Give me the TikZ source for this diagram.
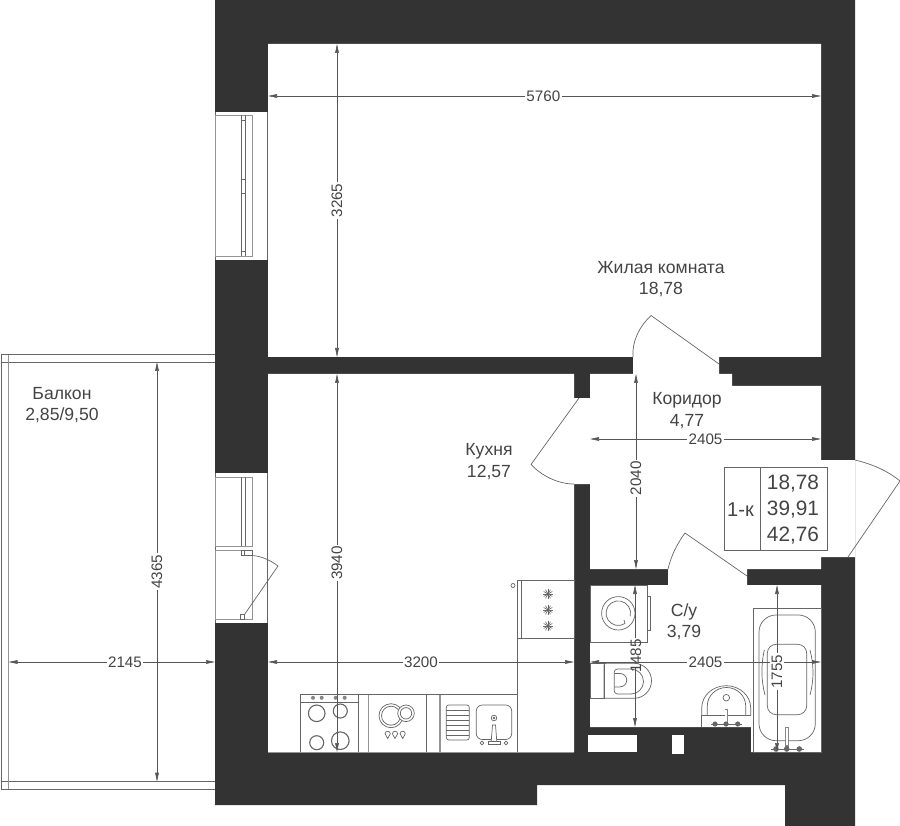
\documentclass[tikz,border=0pt]{standalone}
\usepackage{fontspec}
\setmainfont{Liberation Sans}
\usetikzlibrary{arrows.meta}
\definecolor{wallc}{HTML}{333333}
\definecolor{linec}{HTML}{666666}
\definecolor{dimc}{HTML}{555555}
\definecolor{textc}{HTML}{444444}
\tikzset{
  wall/.style={fill=wallc,draw=none},
  hole/.style={fill=white,draw=none},
  fix/.style={draw=linec,line width=0.7pt},
  fixgray/.style={draw=linec!70,line width=1.3pt},
  tipa/.tip={Stealth[length=9pt,width=3.6pt,inset=0pt]},
  dimline/.style={draw=dimc,line width=0.6pt,tipa-tipa},
  dimhalfa/.style={draw=dimc,line width=0.6pt,tipa-},
  dimhalfb/.style={draw=dimc,line width=0.6pt,-tipa},
  dimtext/.style={fill=white,inner sep=1.5pt,text=textc,font=\fontsize{15.2}{16}\selectfont},
  dimnofill/.style={inner sep=1.5pt,text=textc,font=\fontsize{15.2}{16}\selectfont},
  roomtext/.style={text=textc,align=center,inner sep=0pt,font=\fontsize{17.6}{21.5}\selectfont},
  tabletext/.style={text=textc,inner sep=0pt,font=\fontsize{20.8}{24}\selectfont},
}
\begin{document}
\begin{tikzpicture}[x=1pt,y=-1pt]
\useasboundingbox (0,0) rectangle (900,826);
% walls
\fill[wall] (215,0) -- (855,0) -- (855,826) -- (785,826) -- (785,785) -- (537,785) -- (537,805) -- (215,805) -- cycle;
\fill[hole] (268,44) -- (821,44) -- (821,357) -- (719,357) -- (719,374) -- (732,374) -- (732,386) -- (821,386) -- (821,460) -- (855,460) -- (855,557) -- (821,557) -- (821,569) -- (747,569) -- (747,585) -- (821,585) -- (821,752) -- (751,752) -- (751,727) -- (590,727) -- (590,585) -- (668,585) -- (668,569) -- (590,569) -- (590,484) -- (574,484) -- (574,752) -- (268,752) -- (268,374) -- (574,374) -- (574,398) -- (590,398) -- (590,374) -- (633,374) -- (633,357) -- (268,357) -- cycle;
\fill[hole] (588,735) rectangle (637,752);
\fill[hole] (672,735) rectangle (684,754);
\fill[hole] (215,112) rectangle (267.5,260.5);
\fill[hole] (215,473) rectangle (267.5,623);
% window 1
\draw[fix] (215,112) -- (215,260.5);
\draw[draw=linec,line width=1.2pt] (267.2,112) -- (267.2,260.5);
\draw[fixgray,line width=0.9pt] (215,115) rectangle (252,256);
\draw[fix] (241,115) -- (241,256) (245.3,115) -- (245.3,256);
\draw[fix] (241,120.7) -- (245.3,120.7) (241,179) -- (245.3,179) (241,193) -- (245.3,193) (241,251.7) -- (245.3,251.7);
% window 2
\draw[fix] (215,473) -- (215,623);
\draw[draw=linec,line width=1.2pt] (267.2,473) -- (267.2,623);
\draw[fixgray,line width=0.9pt] (215,477) rectangle (252,546);
\draw[fix] (241,477) -- (241,546) (245.3,477) -- (245.3,546);
\draw[fixgray,line width=0.9pt] (215,550) rectangle (252,619);
\draw[fix] (241,550) rectangle (252,555.5);
\draw[fix] (244.5,550) -- (244.5,555.5);
\draw[fix] (240.5,614.5) rectangle (244.5,619);
\draw[fix] (252,555.5) .. controls (261,556) and (270,560) .. (278,566) -- (244.5,614.5);
% balcony
\draw[fix] (1,354.7) -- (215,354.7) (1,362) -- (215,362) (1,781.7) -- (215,781.7) (1,789.3) -- (215,789.3);
\draw[fix] (1,354.7) -- (1,789.3);
\draw[fixgray,line width=0.9pt] (8.5,354.7) -- (8.5,789.3);
% doors
\draw[fix] (633,357) .. controls (632,340) and (640,326) .. (651,315.5) -- (719,364);
\draw[fix] (574,484) .. controls (558,484) and (542,476) .. (531,464.5) -- (579,398);
\draw[fix] (855,460) .. controls (872,464) and (888,471) .. (900,481) -- (848,557);
\draw[fix] (668,569) .. controls (671,556) and (677,544) .. (685,533) -- (747,576);
% kitchen cabinet
\draw[fix] (517,580.5) rectangle (574,638.5);
\draw[fix] (521.5,580.5) -- (521.5,638.5);
\draw[fix] (513,585.5) circle[radius=2pt];
\foreach \yy in {594,610,626} {
  \foreach \aa in {0,30,...,150}
    \draw[draw=linec,line width=0.6pt] (548,\yy) ++(\aa:5pt) -- ++(\aa+180:10pt);
  \fill[linec] (548,\yy) circle[radius=1.6pt];
}
\draw[fix] (517,638.5) -- (517,752);
\draw[fix] (300.5,694.5) -- (517,694.5);
% stove
\draw[fix] (300.5,694.5) rectangle (358.5,752);
\draw[fix] (300.5,702.5) -- (358.5,702.5);
\foreach \xx in {313,321.7,335.7,344.7}
  \fill[linec!80] (\xx,697.8) circle[radius=2pt];
\draw[draw=linec,line width=1.1pt] (316.7,713.3) circle[radius=8.3pt];
\draw[draw=linec,line width=1.1pt] (340.3,711) circle[radius=7pt];
\draw[draw=linec,line width=1.1pt] (316.7,742.7) circle[radius=7pt];
\draw[draw=linec,line width=1.1pt] (340.3,740.7) circle[radius=8.8pt];
% dishwasher cell
\draw[fixgray] (368.7,694.5) -- (368.7,752);
\draw[fix] (426,694.5) -- (426,752);
\draw[fix] (391,715.7) circle[radius=12pt] (391,715.7) circle[radius=9.5pt];
\draw[fill=white,draw=linec,line width=0.7pt] (406,713.3) circle[radius=8.3pt];
\draw[fix] (406,713.3) circle[radius=5.7pt];
\foreach \xx in {387.7,395,402.7}
  \draw[fix] (\xx,738.5) -- (\xx-2.6,733.8) arc[start angle=180,end angle=0,radius=2.6pt] -- cycle;
% sink cell
\draw[fixgray] (440,694.5) -- (440,752);
\draw[fix,rounded corners=2.5pt] (446.3,705) rectangle (469.3,740);
\foreach \yy in {710,715,720,725,730,735}
  \draw[fix] (446.3,\yy) -- (469.3,\yy);
\draw[fix,rounded corners=6pt] (476.3,705) rectangle (511.7,739.5);
\draw[fix] (494,718) circle[radius=2.8pt] (494,718) circle[radius=0.9pt];
\draw[fix,fill=white] (491,744) -- (492.5,725) -- (495.5,725) -- (497,744) -- cycle;
\draw[fix,fill=white] (488.5,741.5) rectangle (500,744.7);
\draw[fix] (482,743) circle[radius=1.8pt] (506,743) circle[radius=1.8pt];
\draw[fixgray,line width=0.9pt] (268,752) -- (574,752);
% washing machine
\draw[fix] (590,585) rectangle (647.3,642);
\draw[fix] (647.3,596) rectangle (650.7,630.7);
\draw[fix] (618.3,613.3) circle[radius=16.7pt];
\draw[fix] (625,623.5) arc[start angle=-57,end angle=-375,radius=12.3pt];
\draw[fix] (625,623.5) -- (624,620);
% toilet
\draw[fix] (590,663) rectangle (604,698);
\draw[fix,rounded corners=2pt] (604,698.3) -- (604,663.3) -- (634,663.3);
\draw[fix] (634,663.3) arc[start angle=90,end angle=-90,radius=17.5pt] -- (606,698.3) -- (604,698.3);
\draw[fix,rounded corners=3pt] (631,694) -- (614.3,694) -- (614.3,669) -- (631,669);
\draw[fix] (631,669) arc[start angle=90,end angle=-90,radius=12.5pt];
\draw[fix] (614.3,673.5) -- (620,673.5) arc[start angle=90,end angle=-90,radius=6.7pt] -- (614.3,686.9);
% basin
\draw[fix] (701.7,715) -- (701.7,708) arc[start angle=180,end angle=0,x radius=24.5pt,y radius=22.3pt] -- (750.7,715);
\draw[fix] (707.3,715) -- (707.3,706) arc[start angle=180,end angle=0,x radius=19.2pt,y radius=18.5pt] -- (745.7,715);
\draw[fix] (701.7,715) -- (750.7,715);
\draw[fix] (701.7,715) -- (701.7,727);
\draw[fix] (726.3,697.7) circle[radius=3.3pt];
\draw[draw=linec!80,line width=3pt] (726,709) -- (726,726);
\draw[draw=white,line width=1.2pt] (726,710) -- (726,722);
\foreach \xx in {715,726,737.7}
  {\fill[linec] (\xx,724) circle[radius=2.6pt];}
\draw[fix] (711,724) -- (742,724);
% bath
\draw[fix] (753,608) rectangle (821,752);
\draw[fix,rounded corners=17pt] (759,615) rectangle (815.3,740.7);
\draw[fix,rounded corners=9pt] (767.3,644.3) rectangle (806.7,714.7);
\draw[fix] (764.3,650) .. controls (761,665) and (761,680) .. (765,695);
\draw[fix] (810,650) .. controls (814,665) and (814,680) .. (810,695);
\draw[draw=linec!80,line width=4pt] (787,727) -- (787,750);
\draw[draw=white,line width=2pt] (787,728) -- (787,745);
\foreach \xx in {776,786.7,799.3}
  {\fill[linec] (\xx,749) circle[radius=2.8pt];}
\draw[fix] (771,749) -- (804,749);
% dimensions
\coordinate (d1a) at (268,96); \coordinate (d1b) at (821,96);
\draw[dimline] (d1a) -- (d1b) node[pos=0.498,dimtext] (t5760) {5760};
\coordinate (d2a) at (337,44); \coordinate (d2b) at (337,357);
\draw[dimline] (d2a) -- (d2b) node[pos=0.5,dimtext,rotate=90] (t3265) {3265};
\coordinate (d3a) at (337,374); \coordinate (d3b) at (337,752);
\draw[dimline] (d3a) -- (d3b) node[pos=0.5,dimtext,rotate=90] (t3940) {3940};
\coordinate (d4a) at (157,362); \coordinate (d4b) at (157,781.7);
\draw[dimline] (d4a) -- (d4b) node[pos=0.5,dimtext,rotate=90] (t4365) {4365};
\coordinate (d5a) at (8.5,662); \coordinate (d5b) at (215,662);
\draw[dimline] (d5a) -- (d5b) node[pos=0.564,dimtext] (t2145) {2145};
\coordinate (d6a) at (268,662); \coordinate (d6b) at (574,662);
\draw[dimline] (d6a) -- (d6b) node[pos=0.5,dimtext] (t3200) {3200};
\coordinate (d7a) at (590,439); \coordinate (d7b) at (821,439);
\draw[dimline] (d7a) -- (d7b) node[pos=0.5,dimtext] (t2405a) {2405};
\coordinate (d8a) at (636,374); \coordinate (d8b) at (636,569);
\draw[dimline] (d8a) -- (d8b) node[pos=0.535,dimtext,rotate=90] (t2040) {2040};
\coordinate (d9a) at (635,585); \coordinate (d9b) at (635,727);
\coordinate (d9c) at (635,638); \coordinate (d9d) at (635,667);
\draw[dimhalfa] (d9a) -- (d9c);
\draw[dimhalfb] (d9d) -- (d9b);
\node[dimnofill,rotate=90] (t1485) at (636,656) {1485};
\coordinate (d10a) at (590,662); \coordinate (d10b) at (821,662);
\draw[dimline] (d10a) -- (d10b) node[pos=0.5,dimtext] (t2405b) {2405};
\coordinate (d11a) at (777,585); \coordinate (d11b) at (777,752);
\draw[dimline] (d11a) -- (d11b) node[pos=0.52,dimtext,rotate=90] (t1755) {1755};
% room labels
\node[roomtext] (living) at (661,279) {Жилая комната\\18,78};
\node[roomtext] (kitchen) at (489,461.5) {Кухня\\12,57};
\node[roomtext] (balcony) at (62,405) {Балкон\\2,85/9,50};
\node[roomtext] (corridor) at (687,410.5) {Коридор\\4,77};
\node[roomtext] (wc) at (684,621.5) {С/у\\3,79};
% table
\draw[draw=linec,line width=0.7pt] (724.5,467) rectangle (827,550);
\draw[draw=linec,line width=0.7pt] (760.5,467) -- (760.5,550);
\node[tabletext] (ta) at (793,484) {18,78};
\node[tabletext] (tb) at (793,510) {39,91};
\node[tabletext] (tc) at (793,535.5) {42,76};
\node[tabletext,font=\fontsize{20}{22}\selectfont] (tk) at (740.5,510) {1-к};
\end{tikzpicture}
\end{document}
